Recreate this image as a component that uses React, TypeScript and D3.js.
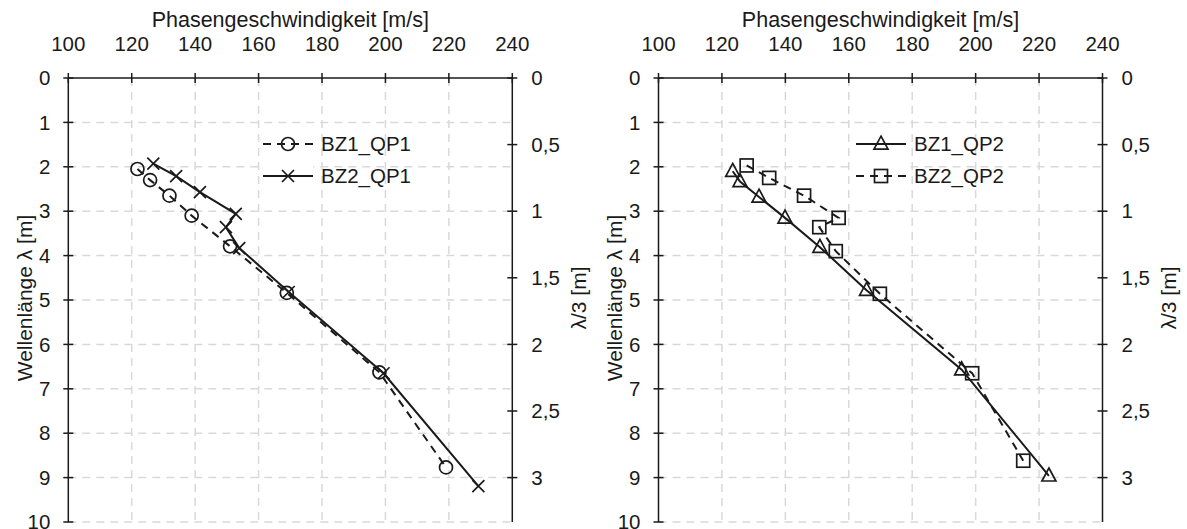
import React from "react";
import * as d3 from "d3";

const velTicks = [100, 120, 140, 160, 180, 200, 220, 240];
const lambdaTicks = [0, 1, 2, 3, 4, 5, 6, 7, 8, 9, 10];
const thirdTicks = [0, 0.5, 1, 1.5, 2, 2.5, 3];

const bz1qp1V = [121.8, 125.8, 131.9, 138.9, 151.0, 168.9, 198.1, 219.1];
const bz1qp1L = [2.05, 2.3, 2.65, 3.1, 3.79, 4.84, 6.63, 8.77];
const bz2qp1V = [126.8, 134.0, 141.5, 152.8, 149.7, 153.9, 169.5, 199.4, 229.3];
const bz2qp1L = [1.93, 2.21, 2.57, 3.06, 3.36, 3.83, 4.82, 6.65, 9.19];
const bz1qp2V = [123.4, 125.7, 131.7, 139.9, 150.9, 165.6, 195.6, 223.1];
const bz1qp2L = [2.1, 2.33, 2.68, 3.15, 3.81, 4.78, 6.57, 8.96];
const bz2qp2V = [127.8, 134.9, 145.9, 156.8, 150.7, 155.9, 169.8, 198.9, 215.0];
const bz2qp2L = [1.97, 2.25, 2.65, 3.15, 3.36, 3.9, 4.86, 6.65, 8.62];

const FONT = "'Liberation Sans', Arial, sans-serif";
const FS = 20.5;
const INK = "#1a1a1a";
const GRID = "#d9d9d9";

type Series = { name: string; v: number[]; l: number[]; dashed: boolean; marker: string };

function Marker({ type, x, y }: { type: string; x: number; y: number }) {
  const s = 6.5;
  if (type === "circle")
    return <circle cx={x} cy={y} r={s} fill="none" stroke={INK} strokeWidth={1.7} />;
  if (type === "x")
    return (
      <path
        d={`M${x - 6},${y - 6}L${x + 6},${y + 6}M${x - 6},${y + 6}L${x + 6},${y - 6}`}
        stroke={INK}
        strokeWidth={1.7}
        fill="none"
      />
    );
  if (type === "square")
    return <rect x={x - s} y={y - s} width={2 * s} height={2 * s} fill="none" stroke={INK} strokeWidth={1.7} />;
  if (type === "triangle") {
    const h = 13;
    return (
      <path
        d={`M${x},${y - h * 0.6}L${x + 7},${y + h * 0.4}L${x - 7},${y + h * 0.4}Z`}
        fill="none"
        stroke={INK}
        strokeWidth={1.7}
      />
    );
  }
  return null;
}

function Panel({ x0, x1, series, legendX }: { x0: number; x1: number; series: Series[]; legendX: number }) {
  const y0 = 78;
  const y1 = 522;
  const xs = d3.scaleLinear().domain([100, 240]).range([x0, x1]);
  const ys = d3.scaleLinear().domain([0, 10]).range([y0, y1]);
  const ys2 = d3.scaleLinear().domain([0, 10 / 3]).range([y0, y1]);
  const fmt = (v: number) => String(v).replace(".", ",");
  const line = d3
    .line<[number, number]>()
    .x((d) => xs(d[0]))
    .y((d) => ys(d[1]));
  const cx = (x0 + x1) / 2;
  const cy = (y0 + y1) / 2;
  return (
    <g fontFamily={FONT} fontSize={FS} fill={INK}>
      {lambdaTicks.slice(1).map((t) => (
        <line key={"h" + t} x1={x0} x2={x1} y1={ys(t)} y2={ys(t)} stroke={GRID} strokeWidth={1.5} strokeDasharray="8,6" />
      ))}
      {velTicks.slice(1, -1).map((t) => (
        <line key={"v" + t} x1={xs(t)} x2={xs(t)} y1={y0} y2={y1} stroke={GRID} strokeWidth={1.5} strokeDasharray="8,6" />
      ))}
      <line x1={x0} x2={x1} y1={y0} y2={y0} stroke={INK} strokeWidth={1.5} />
      <line x1={x0} x2={x0} y1={y0} y2={y1} stroke={INK} strokeWidth={1.5} />
      <line x1={x1} x2={x1} y1={y0} y2={y1} stroke={INK} strokeWidth={1.5} />
      {velTicks.map((t) => (
        <g key={"xt" + t}>
          <line x1={xs(t)} x2={xs(t)} y1={y0 - 5} y2={y0 + 5} stroke={INK} strokeWidth={1.5} />
          <text x={xs(t)} y={51} textAnchor="middle" stroke="none">
            {t}
          </text>
        </g>
      ))}
      {lambdaTicks.map((t) => (
        <g key={"yt" + t}>
          <line x1={x0 - 5} x2={x0 + 5} y1={ys(t)} y2={ys(t)} stroke={INK} strokeWidth={1.5} />
          <text x={x0 - 18} y={ys(t)} dy="0.35em" textAnchor="end">
            {t}
          </text>
        </g>
      ))}
      {thirdTicks.map((t) => (
        <g key={"y2t" + t}>
          <line x1={x1 - 5} x2={x1 + 5} y1={ys2(t)} y2={ys2(t)} stroke={INK} strokeWidth={1.5} />
          <text x={x1 + 19} y={ys2(t)} dy="0.35em" textAnchor="start">
            {fmt(t)}
          </text>
        </g>
      ))}
      <text x={cx} y={27} textAnchor="middle" fontSize={21.5}>
        Phasengeschwindigkeit [m/s]
      </text>
      <text transform={`translate(${x0 - 44},${cy - 2}) rotate(-90)`} textAnchor="middle" dy="0.35em" fontSize={21}>
        Wellenlänge λ [m]
      </text>
      <text transform={`translate(${x1 + 66},${cy - 2}) rotate(-90)`} textAnchor="middle" dy="0.35em" fontSize={21}>
        λ/3 [m]
      </text>
      {series.map((s) => {
        const pts = s.v.map((v, i) => [v, s.l[i]] as [number, number]);
        return (
          <g key={s.name}>
            <path
              d={line(pts) || ""}
              fill="none"
              stroke={INK}
              strokeWidth={2}
              strokeDasharray={s.dashed ? "8,6" : undefined}
            />
            {pts.map((p, i) => (
              <Marker key={i} type={s.marker} x={xs(p[0])} y={ys(p[1])} />
            ))}
          </g>
        );
      })}
      {series.map((s, i) => {
        const ly = 144 + i * 32;
        return (
          <g key={"lg" + s.name}>
            <rect x={legendX - 2} y={ly - 10} width={52} height={20} fill="white" />
            <line
              x1={legendX}
              x2={legendX + 50}
              y1={ly}
              y2={ly}
              stroke={INK}
              strokeWidth={2}
              strokeDasharray={s.dashed ? "8,6" : undefined}
            />
            <Marker type={s.marker} x={legendX + 25} y={ly} />
            <text x={legendX + 58} y={ly} dy="0.35em">
              {s.name}
            </text>
          </g>
        );
      })}
    </g>
  );
}

export default function App() {
  const left: Series[] = [
    { name: "BZ1_QP1", v: bz1qp1V, l: bz1qp1L, dashed: true, marker: "circle" },
    { name: "BZ2_QP1", v: bz2qp1V, l: bz2qp1L, dashed: false, marker: "x" },
  ];
  const right: Series[] = [
    { name: "BZ1_QP2", v: bz1qp2V, l: bz1qp2L, dashed: false, marker: "triangle" },
    { name: "BZ2_QP2", v: bz2qp2V, l: bz2qp2L, dashed: true, marker: "square" },
  ];
  return (
    <svg width={1187} height={529} style={{ position: "absolute", left: 0, top: 0, background: "white" }}>
      <rect width={1187} height={529} fill="white" />
      <Panel x0={68.3} x1={512.3} series={left} legendX={263} />
      <Panel x0={658.5} x1={1102.5} series={right} legendX={856} />
    </svg>
  );
}
